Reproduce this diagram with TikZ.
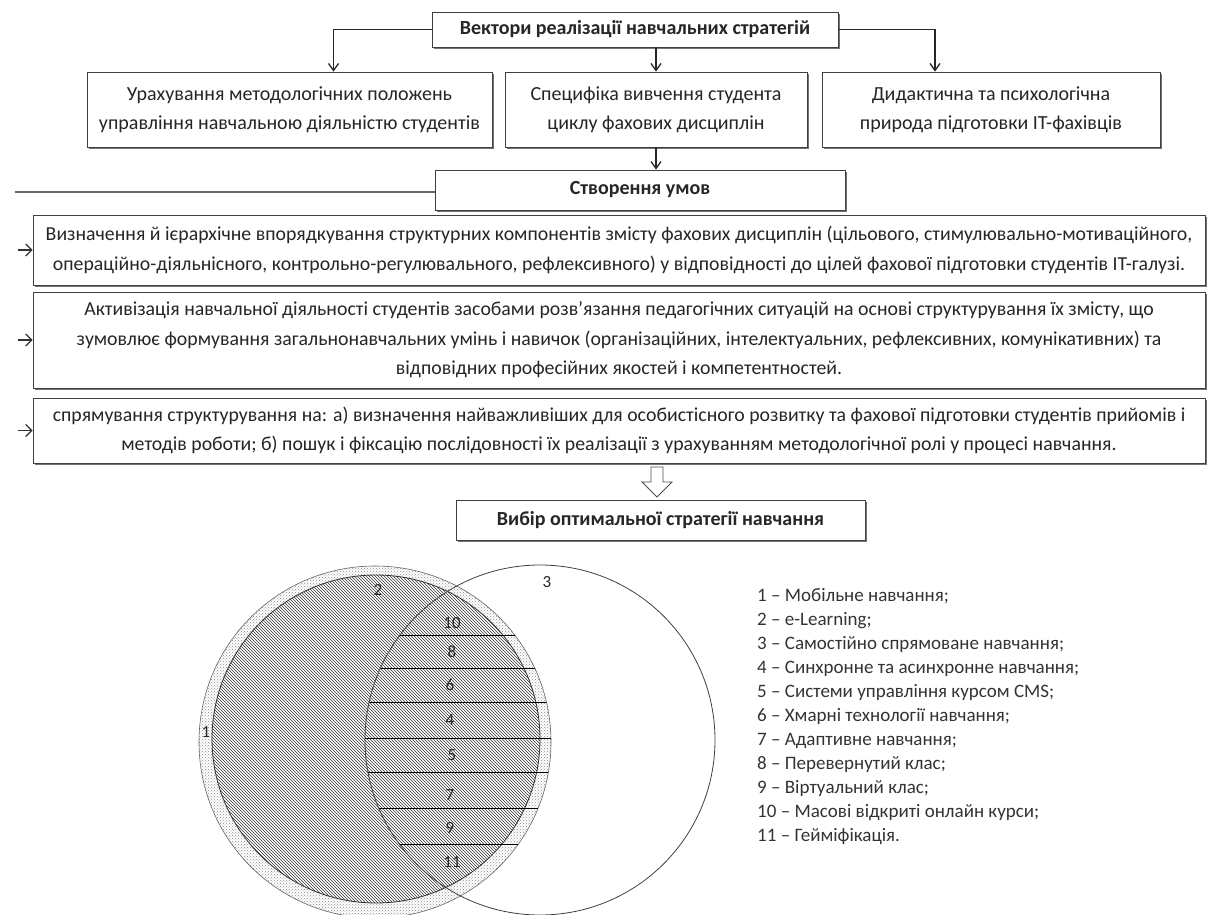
\documentclass[tikz,border=0pt]{standalone}
\usepackage{fontspec}
\setmainfont{Carlito}
\usetikzlibrary{positioning, arrows.meta, shadows, patterns}
\tikzset{>=latex}
\tikzset{
  box/.style={draw=black!75, fill=white, line width=0.8pt, align=center, inner sep=1pt, text=black!85,
    drop shadow={shadow xshift=2pt, shadow yshift=-2pt, fill=black!55, opacity=1},
    font=\fontsize{20}{29}\selectfont},
  longbox/.style={box, font=\fontsize{19.8}{29.5}\selectfont},
  headbox/.style={box, font=\fontsize{20}{29}\selectfont\bfseries},
  conn/.style={-{Straight Barb[length=7pt,width=10pt]}, line width=1.3pt, black!85},
  smallarrow/.style={-{Straight Barb[length=6pt,width=12pt]}, line width=1.3pt, black!80},
  num/.style={font=\fontsize{17}{17}\selectfont, text=black!85, inner sep=1pt}
}

\begin{document}
\begin{tikzpicture}[x=1pt,y=-1pt]
		\useasboundingbox (0,0) rectangle (1208,915);
		% Top
		\node[headbox, minimum width=406pt, minimum height=35pt] (vect) at (635,29.5) {Вектори реалізації навчальних стратегій};
		% Row of factors
		\node[box, minimum width=405pt, minimum height=75pt] (meth) at (289.5,109.5) {Урахування методологічних положень\\управління навчальною діяльністю студентів};
		\node[box, minimum width=302pt, minimum height=75pt] (spec) at (656,109.5) {Специфіка вивчення студента\\циклу фахових дисциплін};
		\node[box, minimum width=338pt, minimum height=75pt] (didact) at (991,109.5) {Дидактична та психологічна\\природа підготовки IT-фахівців};
		% Conditions
		\node[headbox, minimum width=410pt, minimum height=40pt] (cond) at (640,190) {Створення умов};
		\node[longbox, minimum width=1172pt, minimum height=70pt] (condA) at (619,250) {Визначення й ієрархічне впорядкування структурних компонентів змісту фахових дисциплін (цільового, стимулювально-мотиваційного,\\операційно-діяльнісного, контрольно-регулювального, рефлексивного) у відповідності до цілей фахової підготовки студентів IT-галузі.};
		\node[longbox, minimum width=1172pt, minimum height=96pt] (condB) at (619,340) {Активізація навчальної діяльності студентів засобами розв’язання педагогічних ситуацій на основі структурування їх змісту, що\\зумовлює формування загальнонавчальних умінь і навичок (організаційних, інтелектуальних, рефлексивних, комунікативних) та\\відповідних професійних якостей і компетентностей.};
		\node[longbox, minimum width=1172pt, minimum height=65pt] (condC) at (619,430.5) {спрямування структурування на: а) визначення найважливіших для особистісного розвитку та фахової підготовки студентів прийомів і\\методів роботи; б) пошук і фіксацію послідовності їх реалізації з урахуванням методологічної ролі у процесі навчання.};
		% Choice
		\node[headbox, minimum width=409pt, minimum height=40pt] (choice) at (660.5,520) {Вибір оптимальної стратегії навчання};
		% Connectors
		\draw[conn] (vect.west) -| ([xshift=44pt]meth.north);
		\draw[conn] (vect.east) -| ([xshift=-56pt]didact.north);
		\draw[conn] (spec.north |- vect.south) -- (spec.north);
		\draw[conn] (spec.south) -- (spec.south |- cond.north);
		\coordinate (lstart) at (15,192);
		\draw[line width=1.4pt, black!60] (lstart) -- (lstart -| cond.west);
		\draw[smallarrow] ([xshift=-15pt]condA.west) -- (condA.west);
		\draw[smallarrow] ([xshift=-15pt]condB.west) -- (condB.west);
		\draw[smallarrow] ([xshift=-15pt]condC.west) -- (condC.west);
		% Block arrow
		\draw[fill=white, draw=black!70, line width=0.8pt] (651,467) -- (663,467) -- (663,482) -- (672,482) -- (657,497) -- (642,482) -- (651,482) -- cycle;
		% Circle 2 (ring)
		\fill[white] (375,742) circle[radius=176pt];
		\fill[pattern=crosshatch dots, pattern color=black!45] (375,742) circle[radius=176pt];
		\draw[black!60, line width=0.6pt] (375,742) circle[radius=176pt];
		% Circle 1 (hatched)
		\fill[white] (376,739) circle[radius=164pt];
		\fill[pattern=north west lines, pattern color=black!80] (376,739) circle[radius=164pt];
		\draw[black!80, line width=0.8pt] (376,739) circle[radius=164pt];
		% Strips
		\begin{scope}
			\clip (375,742) circle[radius=176pt];
			\clip (540,740) circle[radius=175pt];
			\draw[black, line width=0.8pt] (300,635) -- (600,635) (300,668) -- (600,668) (300,702) -- (600,702) (300,738) -- (600,738) (300,772) -- (600,772) (300,808) -- (600,808) (300,844) -- (600,844);
		\end{scope}
		% Circle 3
		\draw[black!75, line width=0.8pt] (540,740) circle[radius=175pt];
		% Numbers
		\node[num] (n1) at (206,732) {1};
		\node[num] (n2) at (378,590) {2};
		\node[num] (n3) at (547,582) {3};
		\node[num] (n10) at (452,623) {10};
		\node[num] (n8) at (452,652) {8};
		\node[num] (n6) at (450,685) {6};
		\node[num] (n4) at (450,720) {4};
		\node[num] (n5) at (452,755) {5};
		\node[num] (n7) at (450,795) {7};
		\node[num] (n9) at (450,828) {9};
		\node[num] (n11) at (452,862) {11};
		% Legend
		\node[anchor=north west, align=left, inner sep=0pt, text=black!80, font=\fontsize{19}{24}\selectfont] (legend) at (757,588) {1 – Мобільне навчання;\\2 – e-Learning;\\3 – Самостійно спрямоване навчання;\\4 – Синхронне та асинхронне навчання;\\5 – Системи управління курсом CMS;\\6 – Хмарні технології навчання;\\7 – Адаптивне навчання;\\8 – Перевернутий клас;\\9 – Віртуальний клас;\\10 – Масові відкриті онлайн курси;\\11 – Гейміфікація.};
	\end{tikzpicture}
\end{document}
